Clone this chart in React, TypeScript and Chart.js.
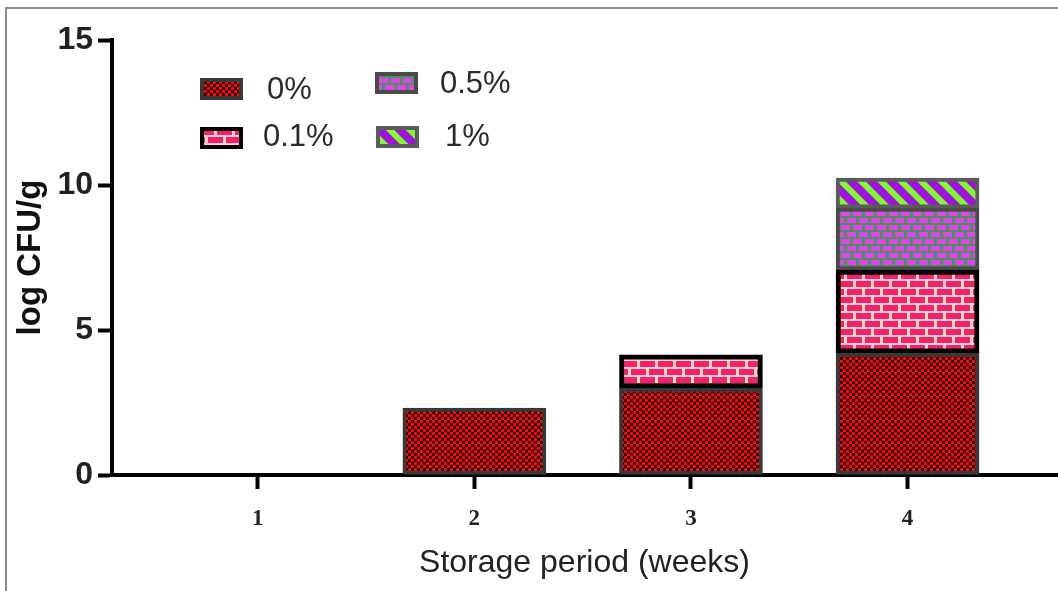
import React, { useEffect, useRef } from "react";
import { Chart, registerables } from "chart.js";

Chart.register(...registerables);

const weeks = [1, 2, 3, 4];
const seriesLabels = ["0%", "0.1%", "0.5%", "1%"];
const values0 = [null, 2.31, 3.0, 4.2];
const values01 = [null, null, 1.14, 2.87];
const values05 = [null, null, null, 2.13];
const values1 = [null, null, null, 1.04];
const yTicks = [0, 5, 10, 15];

function tile(w: number, h: number, draw: (g: CanvasRenderingContext2D) => void) {
  const c = document.createElement("canvas");
  c.width = w;
  c.height = h;
  const g = c.getContext("2d")!;
  draw(g);
  return c;
}

function makePatterns(ctx: CanvasRenderingContext2D) {
  const dots = tile(6, 6, (g) => {
    g.fillStyle = "#2a0000";
    g.fillRect(0, 0, 6, 6);
    g.fillStyle = "#ff0a0a";
    for (const [x, y] of [[1.5, 1.5], [4.5, 4.5]]) {
      g.beginPath();
      g.arc(x, y, 1.75, 0, Math.PI * 2);
      g.fill();
    }
  });
  const bricksPink = tile(18, 16, (g) => {
    g.fillStyle = "#ffd8c6";
    g.fillRect(0, 0, 18, 16);
    g.fillStyle = "#f8206e";
    g.fillRect(1, 1, 15, 6);
    g.fillRect(10, 9, 8, 6);
    g.fillRect(0, 9, 7, 6);
  });
  const bricksMagenta = tile(12, 14, (g) => {
    g.fillStyle = "#4e8f62";
    g.fillRect(0, 0, 12, 14);
    g.fillStyle = "#e244ec";
    g.fillRect(1, 1, 9, 5);
    g.fillRect(7, 8, 5, 5);
    g.fillRect(0, 8, 4, 5);
  });
  const stripes = tile(20, 20, (g) => {
    g.fillStyle = "#a010e0";
    g.fillRect(0, 0, 20, 20);
    g.strokeStyle = "#80fc2e";
    g.lineWidth = 6;
    for (const k of [-20, 0, 20]) {
      g.beginPath();
      g.moveTo(-20 + k, -20);
      g.lineTo(40 + k, 40);
      g.stroke();
    }
  });
  return [
    ctx.createPattern(dots, "repeat")!,
    ctx.createPattern(bricksPink, "repeat")!,
    ctx.createPattern(bricksMagenta, "repeat")!,
    ctx.createPattern(stripes, "repeat")!,
  ];
}

const borderColors = ["#383838", "#000000", "#4a4a4a", "#5c5c5c"];
const borderWidths = [4, 5, 4, 4];

export default function App() {
  const ref = useRef<HTMLCanvasElement | null>(null);

  useEffect(() => {
    const canvas = ref.current!;
    const ctx = canvas.getContext("2d")!;
    const patterns = makePatterns(ctx);
    const allValues = [values0, values01, values05, values1];

    const legendPlugin = {
      id: "customLegend",
      afterDraw(chart: any) {
        const c = chart.ctx as CanvasRenderingContext2D;
        const boxes = [
          { x: 200, y: 78, tx: 267, ty: 90 },
          { x: 200, y: 127, tx: 263, ty: 137 },
          { x: 375, y: 72, tx: 440, ty: 84 },
          { x: 376, y: 126, tx: 445, ty: 137 },
        ];
        c.save();
        boxes.forEach((b, i) => {
          const w = 43;
          const h = 22;
          c.fillStyle = patterns[i];
          c.fillRect(b.x, b.y, w, h);
          c.strokeStyle = borderColors[i];
          c.lineWidth = 4;
          c.strokeRect(b.x + 2, b.y + 2, w - 4, h - 4);
          c.fillStyle = "#2a2a2a";
          c.font = "31px 'Liberation Sans', Arial, sans-serif";
          c.textBaseline = "middle";
          c.textAlign = "left";
          c.fillText(seriesLabels[i], b.tx, b.ty);
        });
        c.restore();
      },
    };

    const chart = new Chart(canvas, {
      type: "bar",
      data: {
        datasets: allValues.map((vals, i) => ({
          label: seriesLabels[i],
          data: weeks.map((w, j) => ({ x: w, y: vals[j] })),
          backgroundColor: patterns[i],
          borderColor: borderColors[i],
          borderWidth: borderWidths[i],
          borderSkipped: false,
          barThickness: 143,
        })) as any,
      },
      options: {
        responsive: false,
        animation: false,
        devicePixelRatio: 1,
        layout: { padding: { top: 40, right: 1, bottom: 0, left: 0 } },
        plugins: { legend: { display: false }, tooltip: { enabled: false } },
        scales: {
          x: {
            type: "linear",
            stacked: true,
            offset: false,
            min: 0.327,
            max: 4.69,
            afterBuildTicks: (s: any) => {
              s.ticks = weeks.map((v) => ({ value: v }));
            },
            afterFit: (s: any) => {
              s.height = 116;
            },
            grid: {
              display: true,
              offset: false,
              drawOnChartArea: false,
              drawTicks: true,
              tickLength: 14,
              tickWidth: 4,
              tickColor: "#000",
            },
            border: { display: true, color: "#000", width: 4 },
            ticks: {
              font: { family: "'Liberation Serif', 'Times New Roman', serif", weight: "bold", size: 23 },
              color: "#222",
              padding: 16,
              maxRotation: 0,
            },
            title: {
              display: true,
              text: "Storage period (weeks)",
              font: { family: "'Liberation Sans', Arial, sans-serif", size: 32 },
              color: "#222",
              padding: { top: 0, bottom: 9 },
            },
          },
          y: {
            stacked: true,
            min: 0,
            max: 15,
            afterBuildTicks: (s: any) => {
              s.ticks = yTicks.map((v) => ({ value: v }));
            },
            afterFit: (s: any) => {
              s.width = 112;
            },
            grid: {
              display: true,
              drawOnChartArea: false,
              drawTicks: true,
              tickLength: 14,
              tickWidth: 4,
              tickColor: "#000",
            },
            border: { display: true, color: "#000", width: 4 },
            ticks: {
              font: { family: "'Liberation Sans', Arial, sans-serif", weight: "bold", size: 32 },
              color: "#222",
              padding: 5,
            },
            title: {
              display: true,
              text: "log CFU/g",
              font: { family: "'Liberation Sans', Arial, sans-serif", weight: "bold", size: 33 },
              color: "#111",
              padding: { top: 11, bottom: 0 },
            },
          },
        },
      },
      plugins: [legendPlugin],
    });

    return () => chart.destroy();
  }, []);

  return (
    <div style={{ position: "fixed", left: 0, top: 0, width: 1058, height: 591, background: "#fff" }}>
      <div
        style={{
          position: "absolute",
          left: 5,
          top: 7,
          width: 1053,
          height: 584,
          borderTop: "2px solid #8c8c8c",
          borderLeft: "2px solid #8c8c8c",
          boxSizing: "border-box",
        }}
      />
      <canvas
        ref={ref}
        width={1058}
        height={591}
        style={{ position: "absolute", left: 0, top: 0, width: 1058, height: 591 }}
      />
    </div>
  );
}
